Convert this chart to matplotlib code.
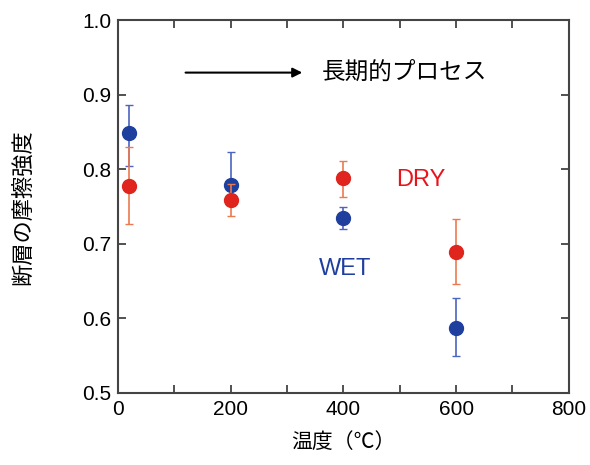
import numpy as np
import matplotlib
matplotlib.use('Agg')
import matplotlib.pyplot as plt
from matplotlib.ticker import MultipleLocator

# data
temps = [20, 200, 400, 600]
dry = [0.778, 0.759, 0.788, 0.689]
dry_lo = [0.727, 0.738, 0.763, 0.646]
dry_hi = [0.830, 0.780, 0.812, 0.734]
wet = [0.849, 0.779, 0.735, 0.587]
wet_lo = [0.805, 0.760, 0.720, 0.549]
wet_hi = [0.886, 0.823, 0.750, 0.627]
yticks = [0.5, 0.6, 0.7, 0.8, 0.9, 1.0]

jp = ['Noto Sans CJK JP', 'DejaVu Sans']
num = 'Liberation Sans'

fig = plt.figure(figsize=(5.9, 4.65), dpi=100)
ax = fig.add_axes([0.2, 0.155, 0.764, 0.801])

dry_err = [np.array(dry) - np.array(dry_lo), np.array(dry_hi) - np.array(dry)]
wet_err = [np.array(wet) - np.array(wet_lo), np.array(wet_hi) - np.array(wet)]

ax.errorbar(temps, dry, yerr=dry_err, fmt='o', color='#e0241e', ecolor='#ec7a50',
            elinewidth=1.2, capsize=3, capthick=1, markersize=10, zorder=3)
ax.errorbar(temps, wet, yerr=wet_err, fmt='o', color='#1f3f9e', ecolor='#4d64c0',
            elinewidth=1.2, capsize=3, capthick=1, markersize=10, zorder=2)

ax.set_xlim(0, 800)
ax.set_ylim(0.5, 1.0)
ax.xaxis.set_major_locator(MultipleLocator(200))
ax.xaxis.set_minor_locator(MultipleLocator(100))
ax.set_yticks(yticks)
ax.set_yticklabels(['%.1f' % v for v in yticks])
ax.tick_params(which='both', direction='in', top=True, right=True, colors='#333333',
               labelcolor='black', width=1.2)
ax.tick_params(which='major', length=6, labelsize=15, pad=5)
ax.tick_params(which='minor', length=6)
for lab in ax.get_xticklabels() + ax.get_yticklabels():
    lab.set_family(num)
for s in ax.spines.values():
    s.set_linewidth(1.5)
    s.set_color('#444444')

ax.set_xlabel('温度（℃）', family=jp, fontsize=15)
ax.set_ylabel('断層の摩擦強度', family=jp, fontsize=16)
ax.xaxis.set_label_coords(0.5, -0.102)
ax.yaxis.set_label_coords(-0.186, 0.5)

ax.text(493, 0.786, 'DRY', color='#e8141c', fontsize=17, family=num, va='center')
ax.text(403, 0.666, 'WET', color='#1f3f9e', fontsize=17, family=num, va='center', ha='center')

ax.annotate('', xy=(332, 0.930), xytext=(115, 0.930),
            arrowprops=dict(arrowstyle='-|>', color='black', lw=1.5, mutation_scale=14))
ax.text(362, 0.930, '長期的プロセス', family=jp, fontsize=17, va='center')

fig.savefig('out.png', dpi=100)
